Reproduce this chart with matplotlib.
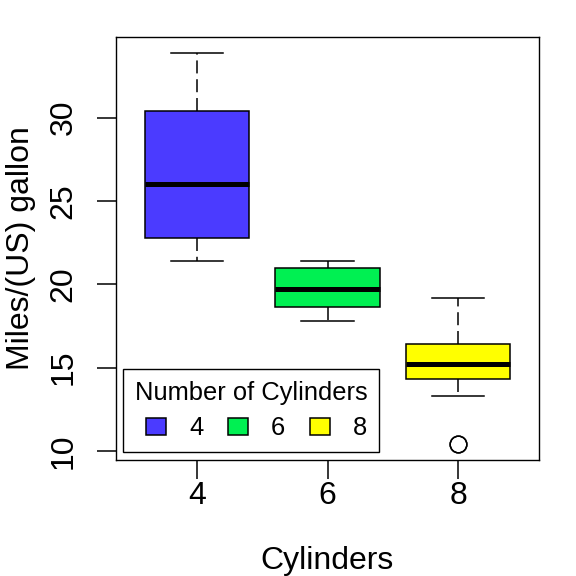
import numpy as np
import matplotlib
matplotlib.use("Agg")
from matplotlib import pyplot as plt
from matplotlib.patches import Patch

plt.rcParams['font.family'] = ['Liberation Sans', 'DejaVu Sans']

# mpg by number of cylinders (mtcars), R-style five-number summaries
cyl_labels = ["4", "6", "8"]
whis_lo = [21.4, 17.8, 13.3]
q1 = [22.8, 18.65, 14.3]
medians = [26.0, 19.7, 15.2]
q3 = [30.4, 21.0, 16.4]
whis_hi = [33.9, 21.4, 19.2]
outliers = [[], [], [10.4, 10.4]]
box_colors = ["#4B3BFF", "#00F052", "#FFFF00"]

stats = []
for i in range(3):
    stats.append(dict(label=cyl_labels[i], whislo=whis_lo[i], q1=q1[i], med=medians[i],
                      q3=q3[i], whishi=whis_hi[i], fliers=outliers[i]))

fig = plt.figure(figsize=(5.76, 5.76), dpi=100)
ax = fig.add_axes([116/576, 116/576, 423/576, 423/576])

bp = ax.bxp(stats, positions=[1, 2, 3], widths=0.8, capwidths=0.4, patch_artist=True,
            boxprops=dict(linewidth=1.1, edgecolor='black'),
            medianprops=dict(color='black', linewidth=3.6, solid_capstyle='butt'),
            whiskerprops=dict(color='black', linewidth=1.1, linestyle=(0, (8.5, 3.8))),
            capprops=dict(color='black', linewidth=1.1),
            flierprops=dict(marker='o', markersize=12, markerfacecolor='none',
                            markeredgecolor='black', markeredgewidth=1.1))
for patch, c in zip(bp['boxes'], box_colors):
    patch.set_facecolor(c)

ax.set_xlim(0.38, 3.62)
ax.set_ylim(9.46, 34.84)
ax.set_yticks([10, 15, 20, 25, 30])
ax.set_xticks([1, 2, 3])
ax.set_xticklabels(cyl_labels)
for s in ax.spines.values():
    s.set_linewidth(1.0)
ax.tick_params(axis='both', length=14, width=1.1, labelsize=23)
ax.tick_params(axis='x', pad=1)
ax.tick_params(axis='y', pad=13)
for t in ax.get_yticklabels():
    t.set_rotation(90)
    t.set_va('center')

ax.set_xlabel("Cylinders", fontsize=23)
ax.set_ylabel("Miles/(US) gallon", fontsize=23)
ax.xaxis.set_label_coords(0.5, -0.204)
ax.yaxis.set_label_coords(-0.19, 0.5)

handles = [Patch(facecolor=c, edgecolor='black', linewidth=1.1) for c in box_colors]
leg = ax.legend(handles, cyl_labels, ncol=3, title="Number of Cylinders", loc='lower left',
                bbox_to_anchor=(7/423, 8/423), borderaxespad=0, fontsize=18.4, title_fontsize=18.4,
                handlelength=0.8, handleheight=0.68, handletextpad=0.9, columnspacing=0.95,
                borderpad=0.46, labelspacing=0.45, fancybox=False, alignment='right')
leg.get_frame().set_edgecolor('black')
leg.get_frame().set_linewidth(1.0)
leg.get_frame().set_alpha(1)

fig.savefig("out.png", dpi=100)
